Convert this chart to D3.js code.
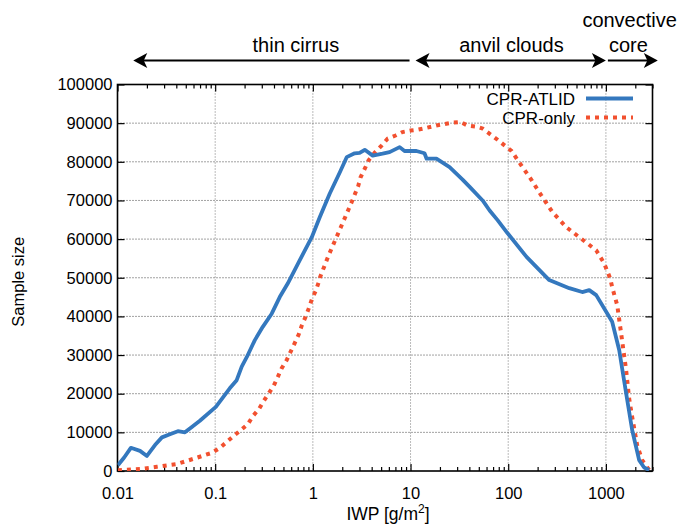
<!DOCTYPE html>
<html lang="en">
<head>
<meta charset="utf-8">
<title>Sample size vs IWP</title>
<script src="https://cdn.jsdelivr.net/npm/d3@7"></script>
<style>
  body { margin: 0; background: #fff; }
  text { font-family: "Liberation Sans", Arial, Helvetica, sans-serif; fill: #000; }
</style>
</head>
<body>
<svg width="680" height="525"></svg>
<script>
// ---- data ----
const atlidIWP = [0.0101, 0.0117, 0.0137, 0.0170, 0.0200, 0.0242, 0.0285, 0.0344, 0.0415, 0.0490,
  0.0577, 0.0697, 0.1016, 0.141, 0.166, 0.187, 0.211, 0.254, 0.307, 0.379, 0.458, 0.553, 0.622,
  0.733, 0.975, 1.179, 1.49, 1.89, 2.22, 2.68, 3.01, 3.40, 4.10, 5.17, 6.10, 7.74, 8.68, 11.5,
  13.9, 14.6, 18.4, 25.1, 34.1, 40.3, 54.7, 64.5, 77.8, 98.6, 154, 263, 422, 573, 675, 796,
  1007, 1159, 1368, 1611, 1857, 2190, 2462, 2770];
const atlidN = [1500, 3500, 6000, 5200, 3900, 6700, 8700, 9500, 10300, 10000,
  11400, 13000, 16600, 21400, 23500, 27000, 29500, 33800, 37300, 40700, 45000, 48500, 51000,
  54500, 60500, 65700, 71800, 77300, 81200, 82200, 82300, 83100, 81600, 82100, 82500, 83800, 82800, 82800,
  82200, 80800, 80800, 78600, 75400, 73500, 70000, 67400, 64900, 61500, 55400, 49400, 47300, 46300, 46800, 45500,
  41200, 38600, 31300, 20100, 10600, 2800, 900, 260];

const cprIWP = [0.0101, 0.0170, 0.0253, 0.0405, 0.0590, 0.0925, 0.112, 0.152, 0.187, 0.216,
  0.243, 0.280, 0.314, 0.354, 0.398, 0.437, 0.480, 0.540, 0.593, 0.652, 0.716, 0.769, 0.843,
  0.906, 0.975, 1.069, 1.147, 1.179, 1.45, 1.89, 2.47, 2.91, 3.08, 3.40, 3.72, 4.28, 5.05, 5.82,
  7.02, 8.28, 10.0, 11.8, 14.6, 18.4, 26.2, 32.4, 38.2, 47.2, 54.7, 77.8, 108, 136, 172, 218,
  283, 393, 573, 796, 961, 1107, 1159, 1306, 1432, 1611, 1729, 1857, 2089, 2350, 2770];
const cprN = [200, 500, 1100, 1800, 3100, 4700, 6000, 8900, 10800, 12100,
  14200, 16000, 18100, 20100, 22100, 24300, 26600, 28700, 30900, 33100, 35300, 37600, 39900,
  42000, 44400, 46600, 48800, 50000, 55800, 62500, 69300, 73700, 76000, 78200, 80400, 82300, 84200, 86000,
  86800, 87700, 88100, 88300, 88800, 89400, 90100, 90300, 89400, 89100, 88600, 85700, 82800, 79100, 75400, 71300,
  67000, 63100, 59900, 57100, 53700, 49800, 47600, 42900, 35600, 26100, 18800, 14000, 6700, 2800, 260];

const seriesNames = ["CPR-ATLID", "CPR-only"];
const xTickValues = [0.01, 0.1, 1, 10, 100, 1000];
const xTickLabels = ["0.01", "0.1", "1", "10", "100", "1000"];
const yTickValues = [0, 10000, 20000, 30000, 40000, 50000, 60000, 70000, 80000, 90000, 100000];

// regime annotations, label position in IWP
const regimeNames = ["thin cirrus", "anvil clouds", "convective", "core"];
const regimeLabelIWP = [0.67, 108, 1750, 1700];

// ---- layout ----
const svg = d3.select("svg");
const mL = 117.5, mR = 652.5, mT = 84.5, mB = 471;
const blue = "#3478be", red = "#f2502f";

const x = d3.scaleLog().domain([0.01, 3000]).range([mL, mR]);
const y = d3.scaleLinear().domain([0, 100000]).range([mB, mT]);

// grid
const grid = svg.append("g");
grid.selectAll("line.gx")
  .data(xTickValues.slice(1))
  .enter().append("line")
  .attr("x1", d => x(d)).attr("x2", d => x(d))
  .attr("y1", mT).attr("y2", mB)
  .attr("stroke", "#777").attr("stroke-width", 1).attr("stroke-dasharray", "1,2");
grid.selectAll("line.gy")
  .data(yTickValues.slice(1, -1))
  .enter().append("line")
  .attr("x1", mL).attr("x2", mR)
  .attr("y1", d => y(d)).attr("y2", d => y(d))
  .attr("stroke", "#444").attr("stroke-width", 1).attr("stroke-dasharray", "1,2");

// axes (ticks drawn inward, mirrored on top/right)
const minor = [];
for (let e = -2; e <= 3; e++) for (let m = 2; m <= 9; m++) {
  const v = m * Math.pow(10, e);
  if (v <= 3000) minor.push(v);
}
const xAxisB = d3.axisBottom(x).tickValues(xTickValues).tickFormat((d, i) => xTickLabels[i])
  .tickSizeInner(-7).tickSizeOuter(0).tickPadding(16);
const gxb = svg.append("g").attr("transform", `translate(0,${mB})`).call(xAxisB);
gxb.selectAll("text").style("font-size", "16.5px");

svg.append("g").attr("transform", `translate(0,${mB})`)
  .call(d3.axisBottom(x).tickValues(minor).tickFormat("").tickSizeInner(-4).tickSizeOuter(0));
svg.append("g").attr("transform", `translate(0,${mT})`)
  .call(d3.axisTop(x).tickValues(xTickValues).tickFormat("").tickSizeInner(-7).tickSizeOuter(0));
svg.append("g").attr("transform", `translate(0,${mT})`)
  .call(d3.axisTop(x).tickValues(minor).tickFormat("").tickSizeInner(-4).tickSizeOuter(0));

const gyl = svg.append("g").attr("transform", `translate(${mL},0)`)
  .call(d3.axisLeft(y).tickValues(yTickValues).tickFormat(d3.format("d"))
    .tickSizeInner(-7).tickSizeOuter(0).tickPadding(5));
gyl.selectAll("text").style("font-size", "16.5px");
svg.append("g").attr("transform", `translate(${mR},0)`)
  .call(d3.axisRight(y).tickValues(yTickValues).tickFormat("").tickSizeInner(-7).tickSizeOuter(0));

svg.selectAll(".domain").remove();
svg.selectAll(".tick line").attr("stroke", "#000").attr("stroke-width", 1.2);

svg.append("rect")
  .attr("x", mL).attr("y", mT)
  .attr("width", mR - mL).attr("height", mB - mT)
  .attr("fill", "none").attr("stroke", "#000").attr("stroke-width", 1.6);

// curves
const line = d3.line().x(d => x(d[0])).y(d => y(d[1]));
svg.append("clipPath").attr("id", "plotclip").append("rect")
  .attr("x", mL).attr("y", mT).attr("width", mR - mL).attr("height", mB - mT);

svg.append("path")
  .datum(cprIWP.map((v, i) => [v, cprN[i]]))
  .attr("d", line).attr("fill", "none")
  .attr("stroke", red).attr("stroke-width", 4).attr("stroke-dasharray", "4,5")
  .attr("clip-path", "url(#plotclip)");

svg.append("path")
  .datum(atlidIWP.map((v, i) => [v, atlidN[i]]))
  .attr("d", line).attr("fill", "none")
  .attr("stroke", blue).attr("stroke-width", 3.8).attr("stroke-linejoin", "round")
  .attr("clip-path", "url(#plotclip)");

// legend
const legend = svg.append("g");
[blue, red].forEach((c, i) => {
  const ly = 98.5 + i * 19;
  legend.append("text").attr("x", 575).attr("y", ly + 6)
    .attr("text-anchor", "end").style("font-size", "17px").text(seriesNames[i]);
  legend.append("line").attr("x1", 586).attr("x2", 633).attr("y1", ly).attr("y2", ly)
    .attr("stroke", c).attr("stroke-width", i === 0 ? 3.8 : 4)
    .attr("stroke-dasharray", i === 0 ? null : "4,5");
});

// axis labels
const xl = svg.append("text").attr("x", 388).attr("y", 520)
  .attr("text-anchor", "middle").style("font-size", "17.5px");
xl.append("tspan").text("IWP [g/m");
xl.append("tspan").attr("dy", -7).style("font-size", "12px").text("2");
xl.append("tspan").attr("dy", 7).text("]");

svg.append("text")
  .attr("transform", `translate(24,${(mT + mB) / 2 + 4}) rotate(-90)`)
  .attr("text-anchor", "middle").style("font-size", "16.5px").text("Sample size");

// regime arrows
const ay = 60.5;
function head(px, dir) {
  // dir = -1 points left, +1 points right
  const L = 14, h = 7.5, n = 3.5;
  const pts = [[px, ay], [px - dir * L, ay - h], [px - dir * (L - n), ay], [px - dir * L, ay + h]];
  svg.append("polygon").attr("points", pts.map(p => p.join(",")).join(" ")).attr("fill", "#000");
}
function shaft(a, b) {
  svg.append("line").attr("x1", a).attr("x2", b).attr("y1", ay).attr("y2", ay)
    .attr("stroke", "#000").attr("stroke-width", 2);
}
// thin cirrus: head on the left only
shaft(x(0.0145) + 8, x(10) - 1); head(x(0.0145), -1);
// anvil: heads both sides
shaft(x(10) + 12, x(1000) - 8); head(x(10) + 5, -1); head(x(1000), 1);
// convective core: head on the right
shaft(x(1000) + 2, x(3400) - 8); head(x(3400), 1);

const labY = [52, 52, 27, 52];
regimeNames.forEach((t, i) => {
  svg.append("text").attr("x", x(regimeLabelIWP[i])).attr("y", labY[i])
    .attr("text-anchor", "middle").style("font-size", "20px").text(t);
});
</script>
</body>
</html>
